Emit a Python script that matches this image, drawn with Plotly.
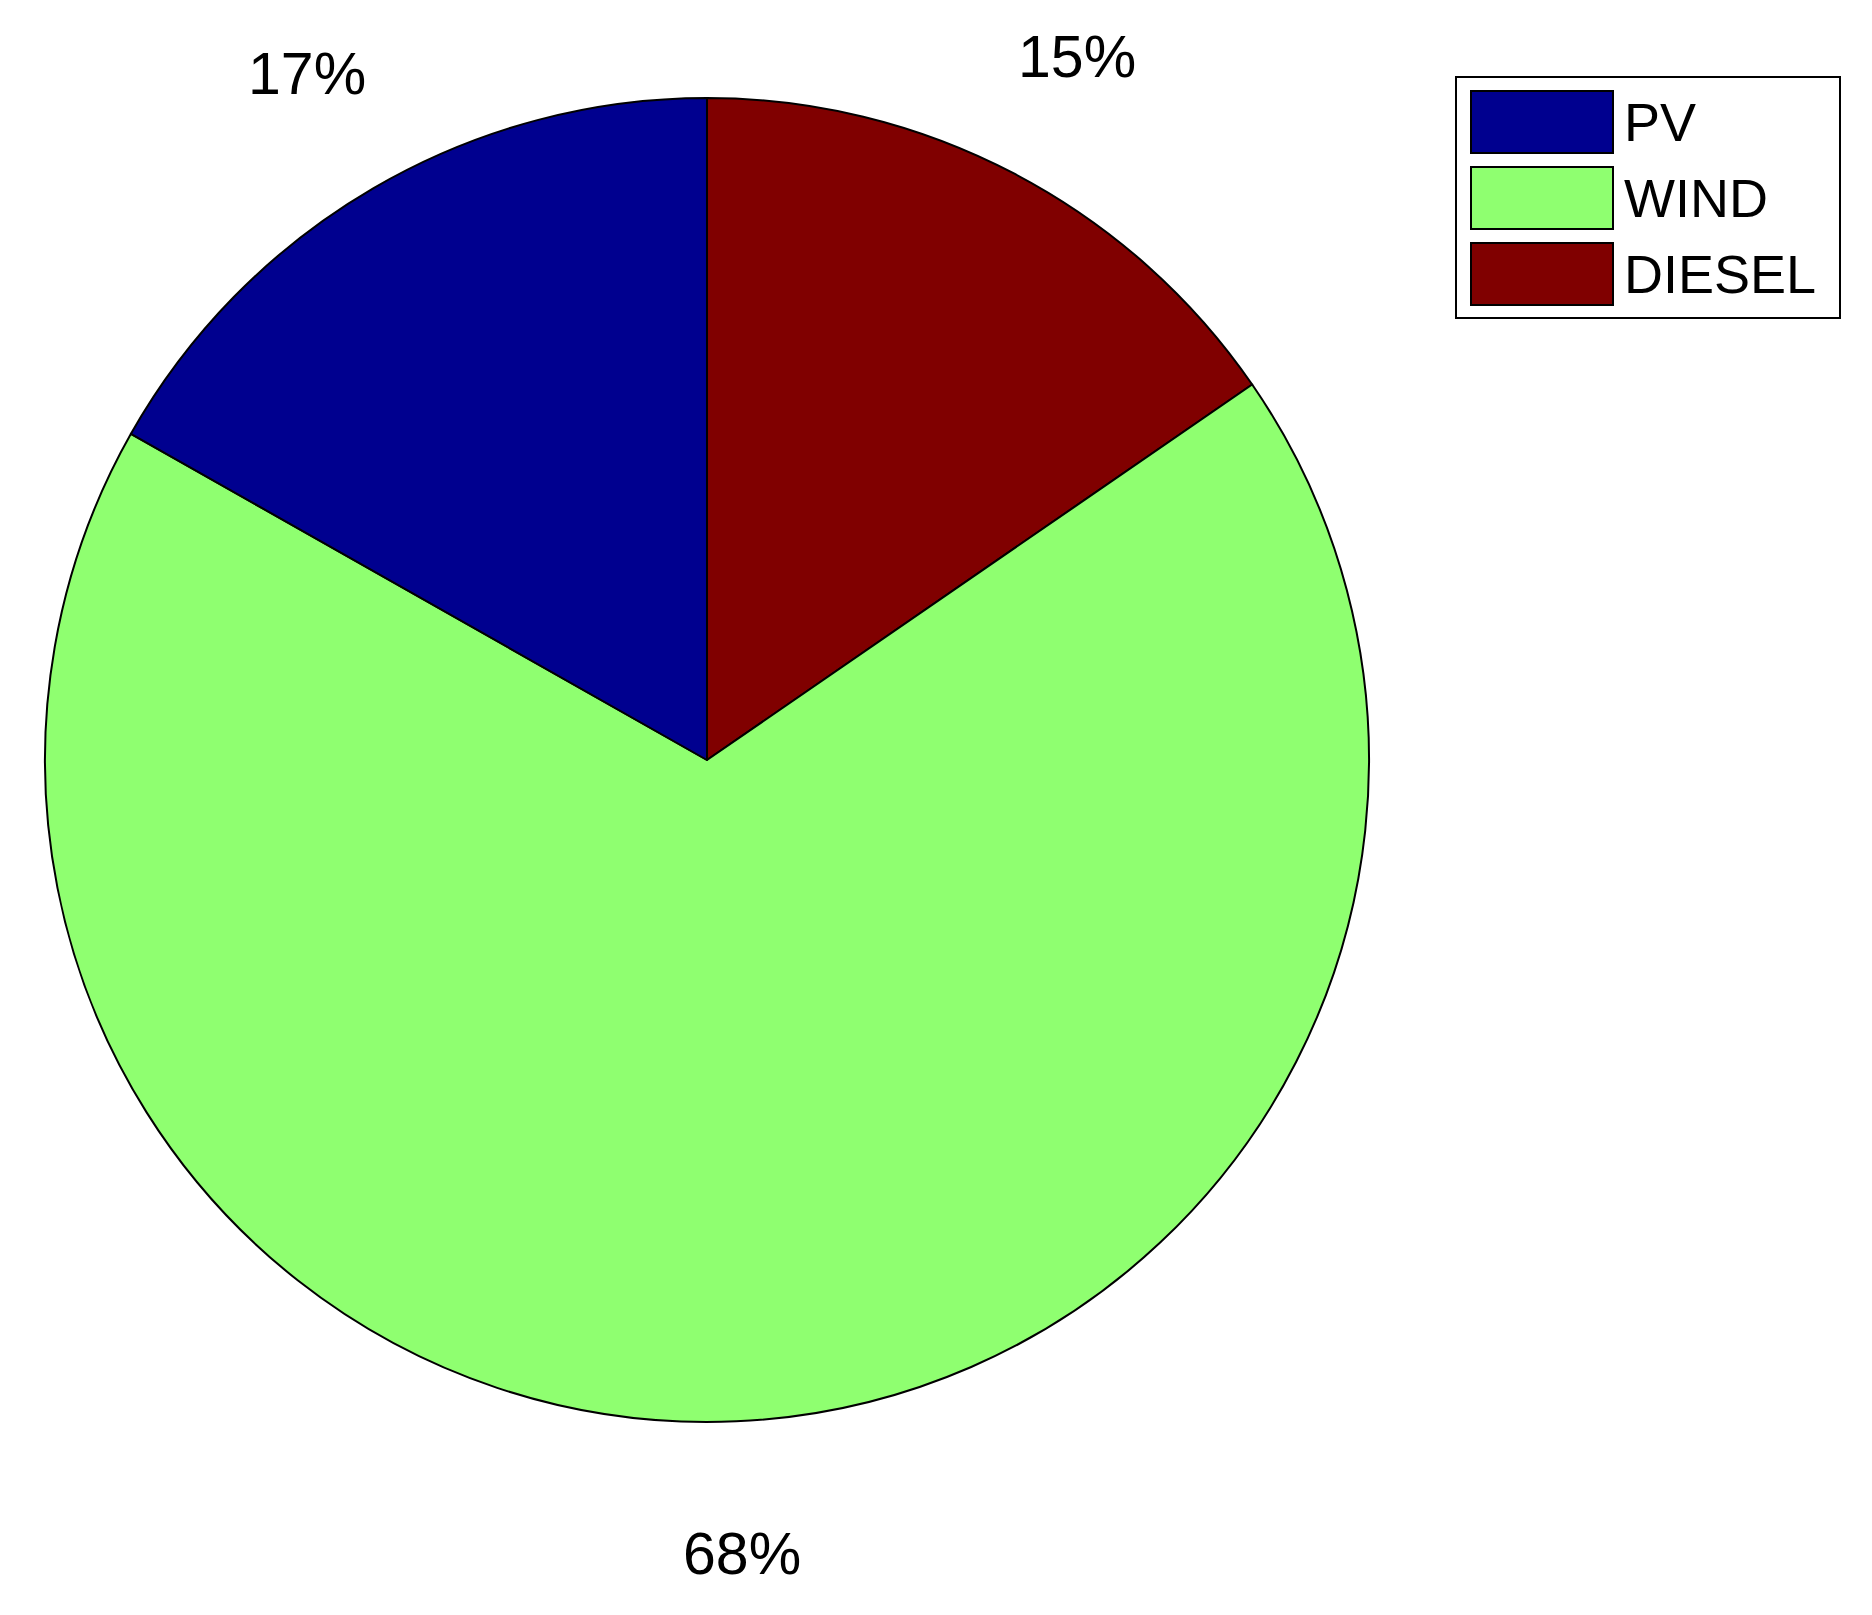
import math
import plotly.graph_objects as go

# ---- data ----
labels = ["PV", "WIND", "DIESEL"]
values = [16.8, 67.8, 15.4]
colors = ["#00008F", "#8FFF70", "#800000"]

# page size and body margin of the html page
PAGE_W, PAGE_H, BODY = 1872, 1615, 8
W, H = PAGE_W - 2 * BODY, PAGE_H - 2 * BODY
FONT = "Liberation Sans, Arial, sans-serif"
FS_PCT = 59
FS_LEG = 54

# pie geometry (page pixels)
cx, cy, r = 707, 760, 662

def px(x):
    return (x - BODY) / W

def py(y):
    return 1 - (y - BODY) / H

fig = go.Figure()
# MATLAB draws counterclockwise from 12 o'clock; emulate with reversed order clockwise
fig.add_trace(go.Pie(
    labels=labels[::-1], values=values[::-1], sort=False, direction="clockwise",
    rotation=0, textinfo="none", hoverinfo="label+percent",
    marker=dict(colors=colors[::-1], line=dict(color="black", width=2)),
    domain=dict(x=[px(cx - r), px(cx + r)], y=[py(cy + r), py(cy - r)]),
    showlegend=False,
))

# percent labels at 1.2 * radius, mid-angle of each slice (counterclockwise from top)
total = sum(values)
cum = 0.0
annotations = []
for lab, v in zip(labels, values):
    mid = (cum + v / 2) / total * 2 * math.pi
    cum += v
    dx = -math.sin(mid)
    dy = math.cos(mid)
    xpix = cx + 1.2 * r * dx
    ypix = cy - 1.2 * r * dy
    annotations.append(dict(
        x=px(xpix), y=py(ypix), xref="paper", yref="paper",
        text=f"{round(v / total * 100):d}%", showarrow=False,
        xanchor="center", yanchor="middle",
        font=dict(family=FONT, size=FS_PCT, color="black"),
    ))

# custom legend (MATLAB style rectangles)
shapes = []
lx0, ly0, lx1, ly1 = 1456, 77, 1840, 318
shapes.append(dict(type="rect", xref="paper", yref="paper",
                   x0=px(lx0), x1=px(lx1), y0=py(ly1), y1=py(ly0),
                   line=dict(color="black", width=2), fillcolor="white"))
row_tops = [91, 167, 243]
for lab, col, top in zip(labels, colors, row_tops):
    shapes.append(dict(type="rect", xref="paper", yref="paper",
                       x0=px(1471), x1=px(1613), y0=py(top + 62), y1=py(top),
                       line=dict(color="black", width=2), fillcolor=col))
    annotations.append(dict(
        x=px(1622), y=py(top + 31), xref="paper", yref="paper",
        text=lab, showarrow=False, xanchor="left", yanchor="middle",
        font=dict(family=FONT, size=FS_LEG, color="black"),
    ))

fig.update_layout(
    width=W, height=H, margin=dict(l=0, r=0, t=0, b=0),
    paper_bgcolor="white", plot_bgcolor="white",
    shapes=shapes, annotations=annotations,
    font=dict(family=FONT),
)

fig.write_html("out.html")
